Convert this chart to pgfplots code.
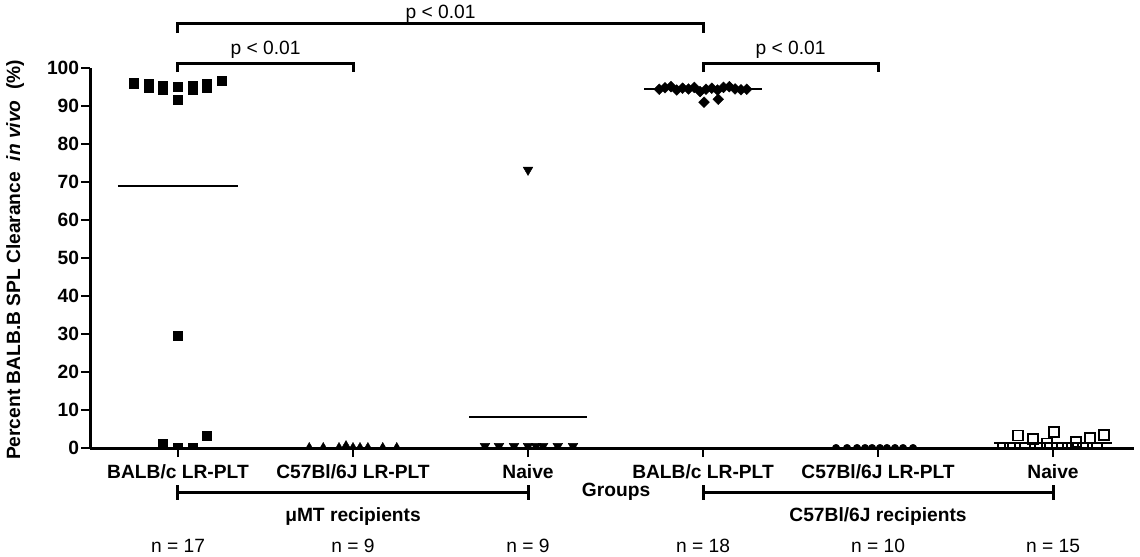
\documentclass[border=0pt]{standalone}
\usepackage{fontspec}
\setmainfont{Liberation Sans}
\usepackage{pgfplots}
\pgfplotsset{compat=1.18}

\pgfplotstableread{
x y
-0.251 96.0
-0.166 95.8
-0.166 94.8
-0.086 95.3
-0.086 94.3
0 95.1
0 91.6
0.086 95.3
0.086 94.3
0.166 95.8
0.166 94.8
0.251 96.6
0 29.5
-0.086 1.0
0 0
0.086 0
0.166 3.2
}\gA
\pgfplotstableread{
x y
0.75 0
0.83 0
0.92 0
0.96 0.5
1.0 0
1.04 0
1.085 0
1.17 0
1.25 0
}\gB
\pgfplotstableread{
x y
1.754 0.5
1.834 0.5
1.92 0.5
2.0 0.5
2.046 0.5
2.086 0.5
2.17 0.5
2.257 0.5
2.0 73.2
}\gC
\pgfplotstableread{
x y
2.75 94.4
2.783 94.8
2.817 95.1
2.85 94.2
2.883 94.7
2.917 94.5
2.95 94.9
2.983 93.8
3.017 94.4
3.05 94.7
3.083 94.2
3.117 94.9
3.15 95.1
3.183 94.5
3.217 94.3
3.25 94.4
3.006 91.0
3.087 91.8
}\gD
\pgfplotstableread{
x y
3.76 0
3.823 0
3.88 0
3.926 0
3.966 0
4.011 0
4.051 0
4.097 0
4.143 0
4.2 0
}\gE
\pgfplotstableread{
x y
4.8 3.3
4.886 2.3
4.966 1.2
5.006 4.3
5.131 1.6
5.211 2.7
5.291 3.5
4.714 0
4.754 0
4.84 0
4.926 0
5.051 0
5.086 0
5.171 0
5.251 0
}\gF

\begin{document}
\begin{tikzpicture}[font=\fontsize{9.6}{11.5}\selectfont]
\begin{axis}[
  x=87.5pt, y=1.9pt,
  xmin=-0.5, xmax=5.46, ymin=0, ymax=100,
  axis x line=bottom, axis y line=left,
  axis line style={-, line width=1.5pt},
  tick align=outside,
  major tick length=4.5pt,
  tick style={line width=1pt, black},
  minor tick num=0,
  xtick={0,1,2,3,4,5},
  xticklabels={BALB/c LR-PLT, C57Bl/6J LR-PLT, Naive, BALB/c LR-PLT, C57Bl/6J LR-PLT, Naive},
  ytick={0,10,...,100},
  yticklabel style={font=\fontsize{9.6}{11.5}\selectfont\bfseries, inner sep=1pt},
  xticklabel style={font=\fontsize{9.6}{11.5}\selectfont\bfseries},
  /pgf/number format/assume math mode=true,
  clip mode=individual, clip marker paths=true,
]
\addplot[only marks, mark=square*, mark size=2.3pt, mark options={fill=black, draw=black, line width=0.2pt}] table {\gA};
\addplot[only marks, mark=triangle*, mark size=2.8pt, mark options={fill=black, draw=black, line width=0.2pt}] table {\gB};
\addplot[only marks, mark=triangle*, mark size=2.8pt, mark options={fill=black, draw=black, line width=0.2pt, rotate=180}] table {\gC};
\addplot[only marks, mark=square*, mark size=1.9pt, mark options={fill=black, draw=black, line width=0.2pt, rotate=45}] table {\gD};
\addplot[only marks, mark=*, mark size=1.9pt, mark options={fill=black, draw=black, line width=0.2pt}] table {\gE};
\addplot[only marks, mark=square, mark size=2.5pt, mark options={draw=black, line width=0.9pt, fill=white}] table {\gF};
% mean lines
\addplot[black, line width=1pt, no marks] coordinates {(-0.343,69) (0.343,69)};
\addplot[black, line width=1pt, no marks] coordinates {(0.663,0.06) (1.337,0.06)};
\addplot[black, line width=1pt, no marks] coordinates {(1.663,8.1) (2.337,8.1)};
\addplot[black, line width=1pt, no marks] coordinates {(2.663,94.4) (3.337,94.4)};
\addplot[black, line width=1pt, no marks] coordinates {(3.663,0.05) (4.337,0.05)};
\addplot[black, line width=1pt, no marks] coordinates {(4.663,1.3) (5.337,1.3)};
% significance brackets
\draw[line width=1.5pt] (axis cs:0,109.2) -- (axis cs:0,111.84) -- (axis cs:3,111.84) -- (axis cs:3,109.2);
\node[anchor=center] at (axis cs:1.5,114.4) {p < 0.01};
\draw[line width=1.5pt] (axis cs:0,98.95) -- (axis cs:0,101.3) -- (axis cs:1,101.3) -- (axis cs:1,98.95);
\node[anchor=center] at (axis cs:0.5,104.7) {p < 0.01};
\draw[line width=1.5pt] (axis cs:3,98.95) -- (axis cs:3,101.3) -- (axis cs:4,101.3) -- (axis cs:4,98.95);
\node[anchor=center] at (axis cs:3.5,104.7) {p < 0.01};
% bottom group brackets
\draw[line width=1.5pt] (axis cs:0,-9.74) -- (axis cs:0,-13.68);
\draw[line width=1.5pt] (axis cs:2,-9.74) -- (axis cs:2,-13.68);
\draw[line width=1.5pt] (axis cs:0,-11.58) -- (axis cs:2,-11.58);
\draw[line width=1.5pt] (axis cs:3,-9.74) -- (axis cs:3,-13.68);
\draw[line width=1.5pt] (axis cs:5,-9.74) -- (axis cs:5,-13.68);
\draw[line width=1.5pt] (axis cs:3,-11.58) -- (axis cs:5,-11.58);
\node[font=\fontsize{9.6}{11.5}\selectfont\bfseries] at (axis cs:2.503,-11.58) {Groups};
\node[font=\fontsize{9.6}{11.5}\selectfont\bfseries] at (axis cs:1,-17.9) {μMT recipients};
\node[font=\fontsize{9.6}{11.5}\selectfont\bfseries] at (axis cs:4,-17.9) {C57Bl/6J recipients};
\node at (axis cs:0,-25.8) {n = 17};
\node at (axis cs:1,-25.8) {n = 9};
\node at (axis cs:2,-25.8) {n = 9};
\node at (axis cs:3,-25.8) {n = 18};
\node at (axis cs:4,-25.8) {n = 10};
\node at (axis cs:5,-25.8) {n = 15};
% y label
\node[rotate=90, font=\fontsize{9.6}{11.5}\selectfont\bfseries] at (axis cs:-0.931,49.5) {Percent BALB.B SPL Clearance~ \textit{in vivo}~ (\%)};
\coordinate (bbl) at (axis cs:-1.0171,-28.42);
\coordinate (btr) at (axis cs:5.497,117.9);
\end{axis}
\pgfresetboundingbox
\useasboundingbox (bbl) rectangle (btr);
\end{tikzpicture}
\end{document}
